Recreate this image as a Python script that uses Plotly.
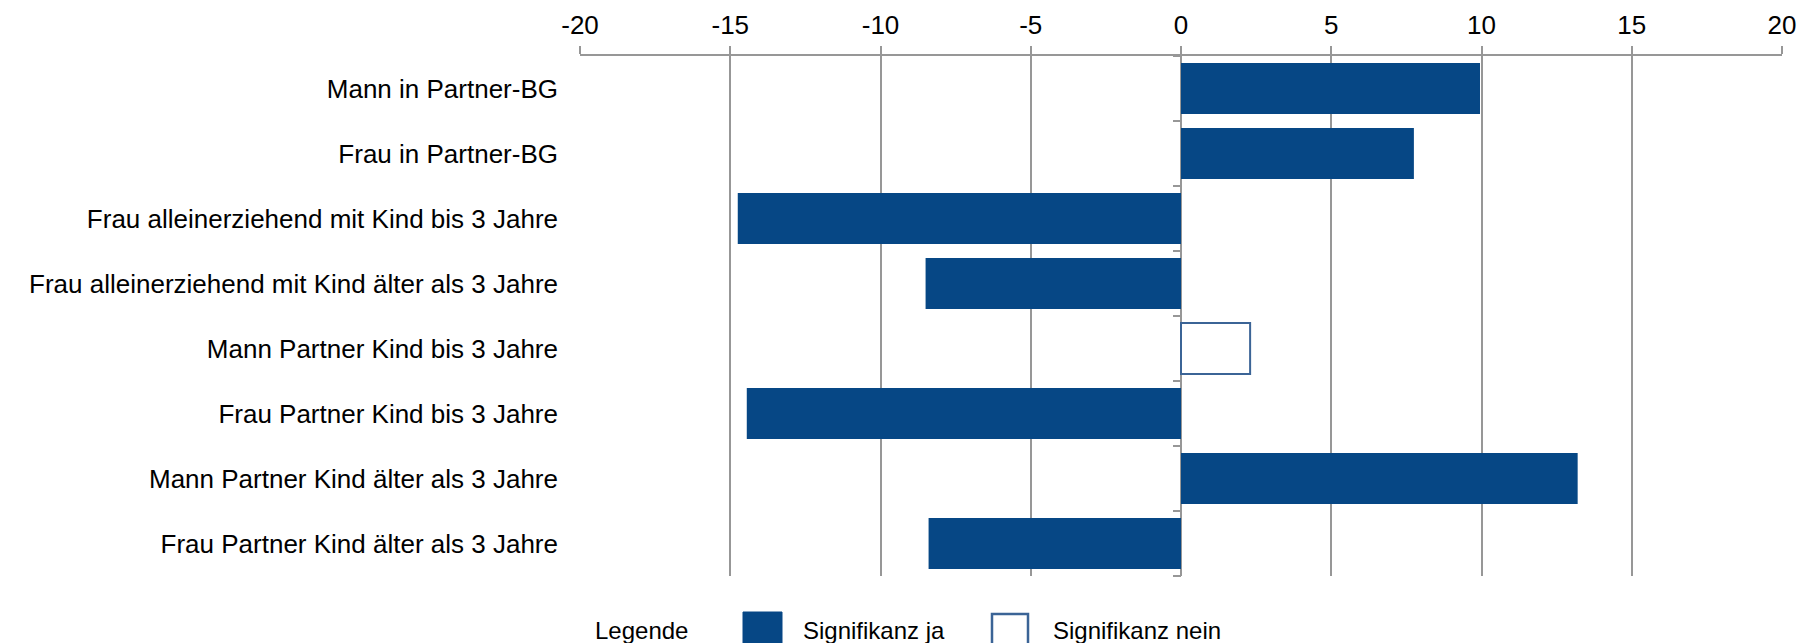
import plotly.graph_objects as go

categories = [
    "Mann in Partner-BG",
    "Frau in Partner-BG",
    "Frau alleinerziehend mit Kind bis 3 Jahre",
    "Frau alleinerziehend mit Kind älter als 3 Jahre",
    "Mann Partner Kind bis 3 Jahre",
    "Frau Partner Kind bis 3 Jahre",
    "Mann Partner Kind älter als 3 Jahre",
    "Frau Partner Kind älter als 3 Jahre",
]
values = [9.95, 7.75, -14.75, -8.5, 2.3, -14.45, 13.2, -8.4]
significant = [True, True, True, True, False, True, True, True]
tick_values = [-20, -15, -10, -5, 0, 5, 10, 15, 20]
tick_labels = ["-20", "-15", "-10", "-5", "0", "5", "10", "15", "20"]
legend_title = "Legende"
legend_names = ["Signifikanz ja", "Signifikanz nein"]

W, H = 1815, 643
ML, MR, MT, MB = 580, 33, 56, 67
PW, PH = W - ML - MR, H - MT - MB

BLUE = "#064785"
OUTLINE = "#3b6496"
GRID = "#979797"
FONT = "Liberation Sans, Arial, sans-serif"


def px(x):
    return (x - ML) / PW


def py(y):
    return (H - MB - y) / PH


sig_vals = [v if s else None for v, s in zip(values, significant)]
non_vals = [v if not s else None for v, s in zip(values, significant)]

fig = go.Figure()
fig.add_trace(go.Bar(
    y=categories, x=sig_vals, orientation="h", name=legend_names[0],
    marker=dict(color=BLUE, line=dict(width=0)), showlegend=False,
))
fig.add_trace(go.Bar(
    y=categories, x=non_vals, orientation="h", name=legend_names[1],
    marker=dict(color="white", line=dict(color=OUTLINE, width=2)), showlegend=False,
))
fig.add_trace(go.Scatter(x=[None], y=[None], yaxis="y2", showlegend=False, hoverinfo="skip"))

fig.update_layout(
    width=W, height=H,
    margin=dict(l=ML, r=MR, t=MT, b=MB, pad=0, autoexpand=False),
    paper_bgcolor="white", plot_bgcolor="white",
    barmode="relative", bargap=0.215,
    font=dict(family=FONT, color="black", size=26),
    xaxis=dict(
        side="top", range=[-20, 20], tickvals=tick_values, ticktext=tick_labels,
        showgrid=True, gridcolor=GRID, gridwidth=2,
        zeroline=True, zerolinecolor=GRID, zerolinewidth=2,
        showline=True, linecolor=GRID, linewidth=2, mirror=False,
        ticks="outside", ticklen=8, tickwidth=2, tickcolor=GRID,
        tickfont=dict(size=26, family=FONT, color="black"),
        ticklabelstandoff=2, automargin=False,
        fixedrange=True,
    ),
    yaxis=dict(
        type="category", categoryorder="array", categoryarray=categories,
        range=[7.5, -0.5], showgrid=False, zeroline=False, showline=False,
        ticks="", tickfont=dict(size=26, family=FONT, color="black"),
        ticklabelstandoff=21, automargin=False, fixedrange=True,
    ),
    yaxis2=dict(
        overlaying="y", anchor="free", position=0.5, side="left",
        range=[7.5, -0.5], tickvals=[i - 0.5 for i in range(len(categories) + 1)],
        ticks="outside", ticklen=8, tickwidth=2, tickcolor=GRID,
        showticklabels=False, showgrid=False, zeroline=False, showline=False,
        automargin=False, fixedrange=True,
    ),
    showlegend=False,
)

# custom legend
fig.add_annotation(xref="paper", yref="paper", x=px(593), y=py(630), text=legend_title,
                   showarrow=False, xanchor="left", yanchor="middle",
                   font=dict(size=24, family=FONT, color="black"))
fig.add_shape(type="rect", xref="paper", yref="paper",
              x0=px(743), x1=px(782), y0=py(612), y1=py(652),
              fillcolor=BLUE, line=dict(color=BLUE, width=1), layer="above")
fig.add_annotation(xref="paper", yref="paper", x=px(801), y=py(630), text=legend_names[0],
                   showarrow=False, xanchor="left", yanchor="middle",
                   font=dict(size=24, family=FONT, color="black"))
fig.add_shape(type="rect", xref="paper", yref="paper",
              x0=px(992), x1=px(1028), y0=py(614), y1=py(652),
              fillcolor="white", line=dict(color=OUTLINE, width=2.5), layer="above")
fig.add_annotation(xref="paper", yref="paper", x=px(1051), y=py(630), text=legend_names[1],
                   showarrow=False, xanchor="left", yanchor="middle",
                   font=dict(size=24, family=FONT, color="black"))

fig.write_html("out.html", config={"displayModeBar": False})
